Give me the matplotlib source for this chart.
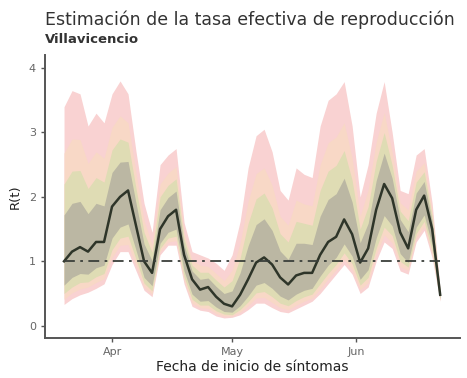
import numpy as np
import pandas as pd
import matplotlib
matplotlib.use("Agg")
import matplotlib.pyplot as plt
import matplotlib.dates as mdates

# fechas cada 2 dias desde 20 de marzo
fechas = pd.date_range("2020-03-20", periods=48, freq="2D")

mediana = [1.00, 1.15, 1.22, 1.15, 1.30, 1.30, 1.85, 2.00, 2.10, 1.55, 1.00, 0.82,
           1.50, 1.70, 1.80, 1.10, 0.72, 0.56, 0.60, 0.45, 0.34, 0.30, 0.48, 0.72,
           0.98, 1.06, 0.95, 0.75, 0.64, 0.78, 0.82, 0.82, 1.10, 1.30, 1.38, 1.65,
           1.42, 0.98, 1.20, 1.80, 2.20, 1.98, 1.45, 1.20, 1.80, 2.02, 1.50, 0.48]

# bandas (de la mas ancha a la mas estrecha)
rosa_sup = [3.40, 3.65, 3.60, 3.10, 3.30, 3.15, 3.60, 3.80, 3.60, 2.70, 1.90, 1.45,
            2.50, 2.65, 2.75, 1.60, 1.15, 1.10, 1.05, 0.97, 0.86, 1.10, 1.62, 2.45,
            2.95, 3.05, 2.70, 2.10, 1.95, 2.45, 2.35, 2.30, 3.10, 3.50, 3.60, 3.79,
            3.10, 2.00, 2.50, 3.30, 3.79, 3.00, 2.10, 2.05, 2.65, 2.75, 1.90, 0.55]
rosa_inf = [0.33, 0.42, 0.48, 0.52, 0.58, 0.65, 0.95, 1.15, 1.15, 0.85, 0.55, 0.45,
            1.10, 1.25, 1.25, 0.65, 0.30, 0.24, 0.22, 0.15, 0.12, 0.13, 0.17, 0.25,
            0.35, 0.35, 0.28, 0.22, 0.20, 0.26, 0.32, 0.38, 0.50, 0.65, 0.80, 0.95,
            0.80, 0.50, 0.60, 1.00, 1.30, 1.20, 0.85, 0.80, 1.30, 1.48, 1.05, 0.38]

salmon_sup = [2.68, 2.90, 2.89, 2.52, 2.70, 2.60, 3.08, 3.26, 3.15, 2.36, 1.63, 1.26,
              2.20, 2.37, 2.47, 1.45, 1.02, 0.94, 0.92, 0.81, 0.70, 0.86, 1.28, 1.93,
              2.36, 2.45, 2.18, 1.70, 1.56, 1.95, 1.89, 1.86, 2.50, 2.84, 2.93, 3.15,
              2.60, 1.70, 2.11, 2.85, 3.31, 2.69, 1.91, 1.80, 2.40, 2.53, 1.78, 0.53]
salmon_inf = [0.41, 0.51, 0.57, 0.60, 0.67, 0.73, 1.06, 1.25, 1.26, 0.93, 0.60, 0.49,
              1.15, 1.30, 1.32, 0.70, 0.35, 0.28, 0.27, 0.19, 0.15, 0.15, 0.21, 0.31,
              0.43, 0.44, 0.36, 0.28, 0.25, 0.32, 0.38, 0.43, 0.57, 0.73, 0.87, 1.03,
              0.87, 0.56, 0.67, 1.10, 1.41, 1.29, 0.92, 0.86, 1.36, 1.54, 1.10, 0.39]

oliva_sup = [2.20, 2.40, 2.41, 2.13, 2.30, 2.23, 2.73, 2.90, 2.85, 2.13, 1.45, 1.14,
             2.00, 2.18, 2.28, 1.35, 0.94, 0.83, 0.83, 0.71, 0.60, 0.70, 1.05, 1.59,
             1.97, 2.06, 1.83, 1.43, 1.30, 1.62, 1.59, 1.56, 2.10, 2.40, 2.49, 2.72,
             2.26, 1.50, 1.85, 2.55, 3.00, 2.49, 1.78, 1.63, 2.23, 2.39, 1.70, 0.52]
oliva_inf = [0.50, 0.60, 0.67, 0.68, 0.76, 0.81, 1.18, 1.36, 1.39, 1.03, 0.66, 0.54,
             1.20, 1.36, 1.39, 0.76, 0.41, 0.32, 0.32, 0.23, 0.18, 0.17, 0.25, 0.37,
             0.51, 0.53, 0.45, 0.35, 0.31, 0.39, 0.45, 0.49, 0.65, 0.81, 0.95, 1.13,
             0.96, 0.63, 0.75, 1.20, 1.53, 1.40, 1.00, 0.91, 1.43, 1.62, 1.16, 0.41]

gris_sup = [1.72, 1.90, 1.93, 1.74, 1.90, 1.86, 2.38, 2.54, 2.55, 1.90, 1.27, 1.01,
            1.80, 1.99, 2.09, 1.25, 0.85, 0.72, 0.74, 0.61, 0.50, 0.54, 0.82, 1.24,
            1.57, 1.66, 1.48, 1.16, 1.03, 1.28, 1.28, 1.26, 1.70, 1.96, 2.05, 2.29,
            1.92, 1.29, 1.59, 2.25, 2.68, 2.29, 1.65, 1.46, 2.06, 2.24, 1.62, 0.50]
gris_inf = [0.63, 0.75, 0.81, 0.80, 0.90, 0.94, 1.36, 1.53, 1.58, 1.17, 0.75, 0.62,
            1.28, 1.45, 1.50, 0.85, 0.49, 0.38, 0.39, 0.29, 0.22, 0.21, 0.31, 0.46,
            0.63, 0.67, 0.58, 0.46, 0.40, 0.49, 0.55, 0.58, 0.77, 0.94, 1.06, 1.27,
            1.08, 0.72, 0.87, 1.36, 1.71, 1.55, 1.12, 0.98, 1.53, 1.72, 1.25, 0.43]

fig = plt.figure(figsize=(4.67, 3.78), dpi=100)
ax = fig.add_axes([0.0964, 0.106, 0.889, 0.748])

ax.fill_between(fechas, rosa_inf, rosa_sup, color="#f9d2d2", lw=0)
ax.fill_between(fechas, salmon_inf, salmon_sup, color="#f8d8c6", lw=0)
ax.fill_between(fechas, oliva_inf, oliva_sup, color="#dfdcb4", lw=0)
ax.fill_between(fechas, gris_inf, gris_sup, color="#bbb7a3", lw=0)
ax.plot(fechas, mediana, color="#2e3529", lw=1.8, solid_joinstyle="round")
ax.plot([fechas[0], fechas[-1]], [1, 1], color="#3a3f3a", lw=1.3,
        ls=(0, (6, 3, 1.5, 3)))

ax.set_xlim(pd.Timestamp("2020-03-15 06:00"), pd.Timestamp("2020-06-27"))
ax.set_ylim(-0.19, 4.2)
ax.set_yticks([0, 1, 2, 3, 4])
ax.xaxis.set_major_locator(mdates.MonthLocator(bymonthday=1))
ax.xaxis.set_major_formatter(mdates.DateFormatter("%b"))

for s in ["top", "right"]:
    ax.spines[s].set_visible(False)
for s in ["left", "bottom"]:
    ax.spines[s].set_color("#555555")
    ax.spines[s].set_linewidth(1.4)
ax.tick_params(colors="#555555", labelcolor="#666666", labelsize=8, length=3, width=1)

ax.set_ylabel("R(t)", fontsize=9.5, color="#222222", labelpad=5)
ax.set_xlabel("Fecha de inicio de síntomas", fontsize=10, color="#222222", labelpad=2)

fig.text(0.0964, 0.935, "Estimación de la tasa efectiva de reproducción",
         fontsize=12.5, color="#333333", ha="left", va="baseline")
fig.text(0.0964, 0.885, "Villavicencio", fontsize=9.5, color="#333333",
         ha="left", va="baseline", fontweight="bold")

fig.savefig("out.png", dpi=100)
